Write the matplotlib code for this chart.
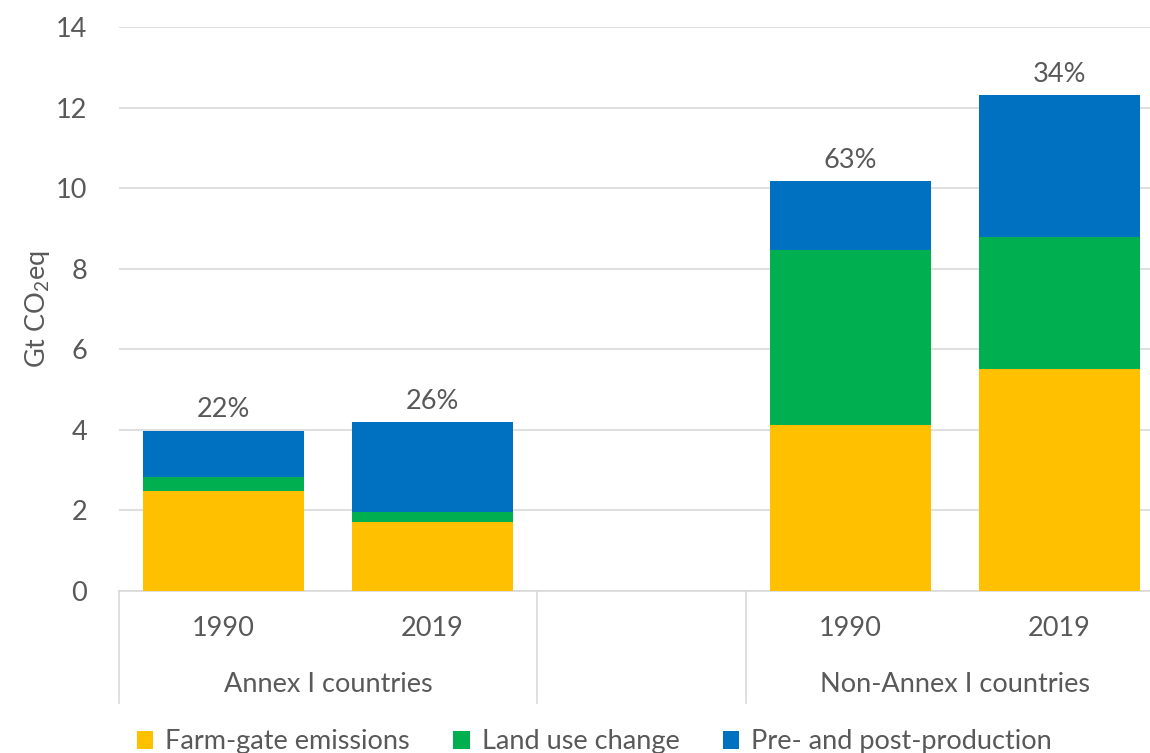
import matplotlib
matplotlib.use("Agg")
import matplotlib.pyplot as plt
from matplotlib.lines import Line2D
from matplotlib.patches import Patch

# ---- data ----
groups = ["Annex I countries", "", "Non-Annex I countries"]
years = ["1990", "2019", "", "1990", "2019"]
farm_gate = [2.48, 1.71, 0, 4.12, 5.51]
land_use = [0.35, 0.25, 0, 4.34, 3.27]
pre_post = [1.15, 2.23, 0, 1.71, 3.52]
pct_labels = ["22%", "26%", "", "63%", "34%"]
series_names = ["Farm-gate emissions", "Land use change", "Pre- and post-production"]
colors = ["#FFC000", "#00B050", "#0070C0"]

TXT = "#595959"
GRID = "#D9D9D9"
FONT = "Lato"
FS = 19.5

plt.rcParams["font.family"] = [FONT, "DejaVu Sans"]
plt.rcParams["mathtext.fontset"] = "custom"
plt.rcParams["mathtext.rm"] = FONT
plt.rcParams["mathtext.it"] = FONT + ":italic"

W, H = 1150, 753
fig = plt.figure(figsize=(W / 100, H / 100), dpi=100)
x0, x1 = 119, 1164
ytop, ybot = 27, 591
ax = fig.add_axes([x0 / W, (H - ybot) / H, (x1 - x0) / W, (ybot - ytop) / H])

pos = list(range(len(years)))
bw = 0.77
ax.bar(pos, farm_gate, bw, color=colors[0], zorder=3)
bottom2 = [a for a in farm_gate]
ax.bar(pos, land_use, bw, bottom=bottom2, color=colors[1], zorder=3)
bottom3 = [a + b for a, b in zip(farm_gate, land_use)]
ax.bar(pos, pre_post, bw, bottom=bottom3, color=colors[2], zorder=3)

for p, lab, b, v in zip(pos, pct_labels, bottom3, pre_post):
    if lab:
        ax.annotate(lab, (p, b + v), xytext=(0, 6), textcoords="offset points",
                    ha="center", va="bottom", fontsize=FS, color=TXT)

ax.set_xlim(-0.5, 4.5)
ax.set_ylim(0, 14)
ax.set_yticks(range(0, 15, 2))
ax.tick_params(axis="y", length=0, labelsize=FS, labelcolor=TXT, pad=23)
ax.set_xticks([])
ax.grid(axis="y", color=GRID, linewidth=1.2, zorder=0)
for s in ["left", "right", "top"]:
    ax.spines[s].set_visible(False)
ax.spines["bottom"].set_color(GRID)
ax.spines["bottom"].set_linewidth(1.2)

ah = ybot - ytop
tr = ax.get_xaxis_transform()
for p, y in zip(pos, years):
    if y:
        ax.text(p, -(629 - ybot) / ah, y, transform=tr, ha="center", va="center",
                fontsize=FS, color=TXT, clip_on=False)
group_centers = [0.5, 2, 3.5]
for c, g in zip(group_centers, groups):
    if g:
        ax.text(c, -(685 - ybot) / ah, g, transform=tr, ha="center", va="center",
                fontsize=FS, color=TXT, clip_on=False)
for sx in [-0.5, 1.5, 2.5, 4.5]:
    ax.add_line(Line2D([sx, sx], [0, -(703 - ybot) / ah], transform=tr, color=GRID,
                       linewidth=1.2, clip_on=False))

ax.set_ylabel("Gt CO$_2$eq", fontsize=FS, color=TXT, labelpad=3)

handles = [Patch(facecolor=c, edgecolor="none") for c in colors]
fig.legend(handles, series_names, loc="center", bbox_to_anchor=(0.517, (H - 742) / H),
           ncol=3, frameon=False, fontsize=FS, labelcolor=TXT, handlelength=0.6,
           handleheight=0.6, handletextpad=0.45, columnspacing=1.6)

fig.savefig("out.png", dpi=100)
